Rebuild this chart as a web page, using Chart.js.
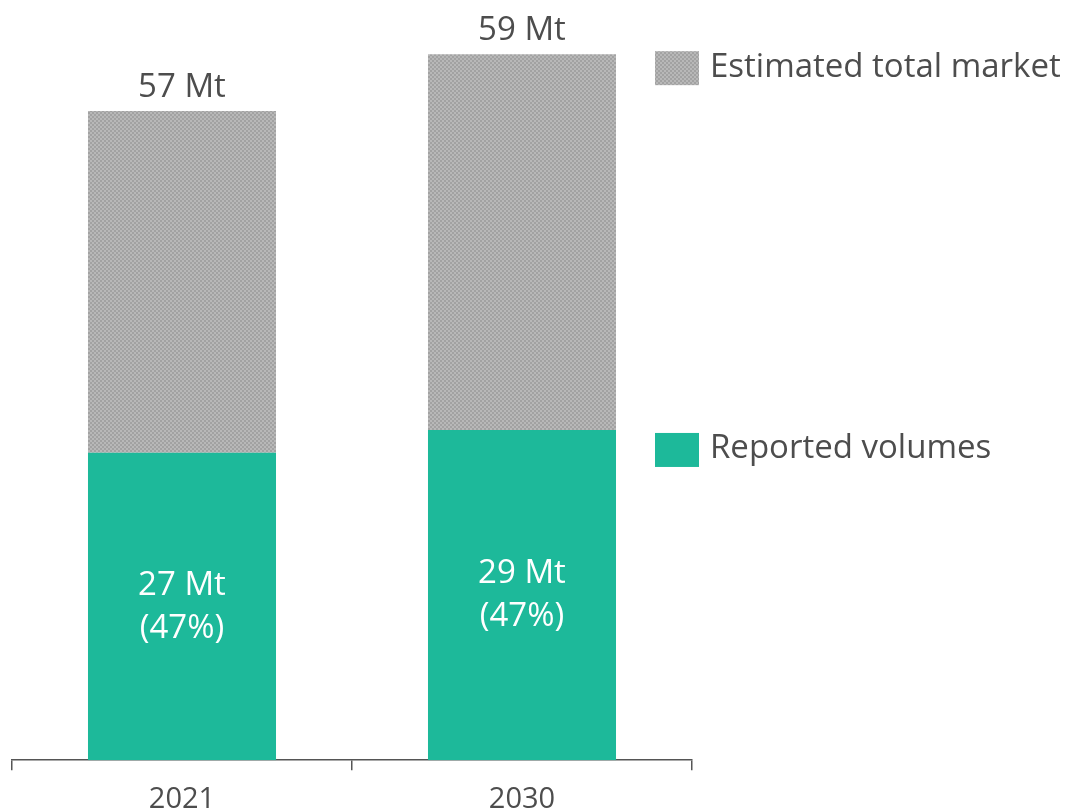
<!DOCTYPE html>
<html>
<head>
<meta charset="utf-8">
<style>
  html, body { margin: 0; padding: 0; background: #ffffff; }
  #wrap { width: 1069px; height: 809px; }
</style>
</head>
<body>
<div id="wrap"><canvas id="marketChart" width="1069" height="809"></canvas></div>

<script src="https://cdn.jsdelivr.net/npm/chart.js@4.4.0/dist/chart.umd.min.js"></script>
<script>
    // Data
    const years = ['2021', '2030'];
    const reported = [27, 29];
    const unreported = [30, 33];          // grey part as drawn
    const totalLabels = ['57 Mt', '59 Mt'];
    const reportedLabels = [['27 Mt', '(47%)'], ['29 Mt', '(47%)']];
    const seriesNames = ['Reported volumes', 'Estimated total market'];

    const textColor = '#4d4d4d';
    const teal = '#1db99a';
    const fontFamily = '"Open Sans", sans-serif';

    // small dotted grey pattern for the "estimated" part
    function greyPattern() {
        const c = document.createElement('canvas');
        c.width = 4; c.height = 4;
        const g = c.getContext('2d');
        g.fillStyle = '#b8b8b8';
        g.fillRect(0, 0, 4, 4);
        g.fillStyle = '#a2a2a2';
        g.fillRect(0, 0, 2, 2);
        g.fillRect(2, 2, 2, 2);
        return g.createPattern(c, 'repeat');
    }
    const grey = greyPattern();

    // draws value labels and the side legend
    const labelPlugin = {
        id: 'labelPlugin',
        afterDatasetsDraw(chart) {
            const ctx = chart.ctx;
            const bottomBars = chart.getDatasetMeta(0).data;
            const topBars = chart.getDatasetMeta(1).data;
            ctx.save();
            ctx.textAlign = 'center';

            // totals above bars
            ctx.fillStyle = textColor;
            ctx.font = '33px ' + fontFamily;
            ctx.textBaseline = 'alphabetic';
            topBars.forEach((bar, i) => {
                ctx.fillText(totalLabels[i], bar.x, bar.y - 14);
            });

            // reported labels inside teal segment
            ctx.fillStyle = '#ffffff';
            ctx.textBaseline = 'middle';
            bottomBars.forEach((bar, i) => {
                const mid = (bar.y + bar.base) / 2;
                ctx.fillText(reportedLabels[i][0], bar.x, mid - 21);
                ctx.fillText(reportedLabels[i][1], bar.x, mid + 22);
            });

            // legend on the right, aligned with the 2030 segments
            const last = years.length - 1;
            const items = [
                { y: topBars[last].y - 3, fill: grey, text: seriesNames[1] },
                { y: bottomBars[last].y + 3, fill: teal, text: seriesNames[0] }
            ];
            ctx.textAlign = 'left';
            ctx.font = '33px ' + fontFamily;
            items.forEach(it => {
                ctx.fillStyle = it.fill;
                ctx.fillRect(655, it.y, 44, 34);
                ctx.fillStyle = textColor;
                ctx.fillText(it.text, 710, it.y + 16);
            });
            ctx.restore();
        }
    };

    const ctx = document.getElementById('marketChart').getContext('2d');
    new Chart(ctx, {
        type: 'bar',
        data: {
            labels: years,
            datasets: [
                {
                    label: seriesNames[0],
                    data: reported,
                    backgroundColor: teal,
                    borderWidth: 0
                },
                {
                    label: seriesNames[1],
                    data: unreported,
                    backgroundColor: grey,
                    borderWidth: 0
                }
            ]
        },
        options: {
            responsive: false,
            animation: false,
            layout: {
                padding: { left: 12, right: 377, top: 20, bottom: -20 }
            },
            datasets: {
                bar: { categoryPercentage: 1, barPercentage: 0.553 }
            },
            scales: {
                x: {
                    stacked: true,
                    grid: {
                        offset: true,
                        drawOnChartArea: false,
                        drawTicks: true,
                        tickLength: 10,
                        color: '#555555',
                        lineWidth: 1.5
                    },
                    border: { color: '#555555', width: 1.5 },
                    ticks: {
                        color: textColor,
                        padding: 12,
                        font: { family: fontFamily, size: 29, lineHeight: 1.2 }
                    }
                },
                y: {
                    stacked: true,
                    display: false,
                    min: 0,
                    max: 65
                }
            },
            plugins: {
                legend: { display: false },
                tooltip: { enabled: false }
            }
        },
        plugins: [labelPlugin]
    });
</script>
</body>
</html>
